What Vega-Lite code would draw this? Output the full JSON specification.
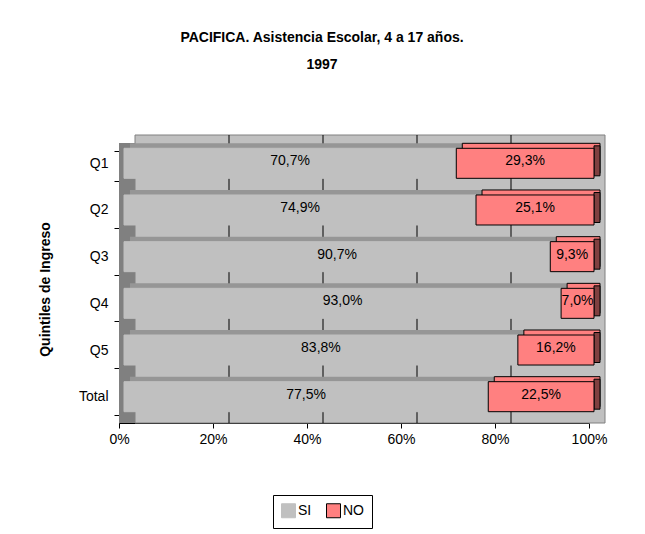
{
  "$schema": "https://vega.github.io/schema/vega-lite/v6.json",
  "width": 470,
  "height": 280,
  "autosize": "none",
  "padding": {"left": 119, "top": 143, "right": 56, "bottom": 111},
  "background": "white",
  "config": {
    "locale": {"number": {"decimal": ",", "thousands": ".", "grouping": [3], "currency": ["$", ""]}},
    "view": {"fill": "#C0C0C0", "stroke": null},
    "font": "Liberation Sans"
  },
  "title": {
    "text": ["PACIFICA. Asistencia Escolar, 4 a 17 años.", "1997"],
    "fontSize": 14,
    "fontWeight": "bold",
    "font": "Liberation Sans",
    "lineHeight": 27,
    "anchor": "middle",
    "frame": "group",
    "dx": -32,
    "offset": 63,
    "color": "black"
  },
  "data": {
    "values": [
      {"q": "Q1", "serie": "SI", "value": 0.707},
      {"q": "Q1", "serie": "NO", "value": 0.293},
      {"q": "Q2", "serie": "SI", "value": 0.749},
      {"q": "Q2", "serie": "NO", "value": 0.251},
      {"q": "Q3", "serie": "SI", "value": 0.907},
      {"q": "Q3", "serie": "NO", "value": 0.093},
      {"q": "Q4", "serie": "SI", "value": 0.930},
      {"q": "Q4", "serie": "NO", "value": 0.070},
      {"q": "Q5", "serie": "SI", "value": 0.838},
      {"q": "Q5", "serie": "NO", "value": 0.162},
      {"q": "Total", "serie": "SI", "value": 0.775},
      {"q": "Total", "serie": "NO", "value": 0.225}
    ]
  },
  "resolve": {"scale": {"x": "shared", "y": "shared"}},
  "layer": [
    {
      "data": {"values": [{"w": "wall"}]},
      "mark": {"type": "rect", "fill": "#C0C0C0", "stroke": "#808080", "strokeWidth": 1, "xOffset": 16, "x2Offset": 16, "yOffset": -8, "y2Offset": -8},
      "encoding": {
        "x": {"datum": 0, "type": "quantitative", "scale": {"domain": [0, 1], "nice": false}},
        "x2": {"datum": 1}
      }
    },
    {
      "data": {"values": [{"w": "left"}]},
      "mark": {"type": "rect", "fill": "#808080"},
      "encoding": {
        "x": {"datum": 0, "type": "quantitative"},
        "x2": {"datum": 0.034}
      }
    },
    {
      "data": {"values": [{"g": 0.2}, {"g": 0.4}, {"g": 0.6}, {"g": 0.8}]},
      "mark": {"type": "rule", "color": "black", "strokeWidth": 1, "xOffset": 16, "x2Offset": 16, "yOffset": -8, "y2Offset": -8},
      "encoding": {
        "x": {"field": "g", "type": "quantitative"}
      }
    },
    {
      "transform": [{"stack": "value", "groupby": ["q"], "sort": [{"field": "serie", "order": "descending"}], "as": ["v0", "v1"]}],
      "mark": {"type": "bar", "xOffset": 11, "x2Offset": 11, "yOffset": -8, "y2Offset": -8},
      "encoding": {
        "y": {"field": "q", "type": "nominal", "sort": ["Q1", "Q2", "Q3", "Q4", "Q5", "Total"], "scale": {"paddingInner": 0.357, "paddingOuter": 0.178}},
        "x": {"field": "v0", "type": "quantitative"},
        "x2": {"field": "v1"},
        "color": {"condition": {"test": "datum.serie === 'NO'", "value": "#FF8080"}, "value": "#969696"},
        "stroke": {"value": "black"},
        "strokeWidth": {"condition": {"test": "datum.serie === 'NO'", "value": 1}, "value": 0}
      }
    },
    {
      "transform": [
        {"stack": "value", "groupby": ["q"], "sort": [{"field": "serie", "order": "descending"}], "as": ["v0", "v1"]},
        {"filter": "datum.serie === 'NO'"}
      ],
      "mark": {"type": "tick", "thickness": 6, "size": 30, "xOffset": 8, "yOffset": -5.5, "color": "#804040", "opacity": 1, "stroke": "black", "strokeWidth": 1},
      "encoding": {
        "y": {"field": "q", "type": "nominal", "sort": ["Q1", "Q2", "Q3", "Q4", "Q5", "Total"]},
        "x": {"field": "v1", "type": "quantitative"}
      }
    },
    {
      "transform": [{"stack": "value", "groupby": ["q"], "sort": [{"field": "serie", "order": "descending"}], "as": ["v0", "v1"]}],
      "mark": {"type": "bar", "xOffset": 5, "x2Offset": 5, "yOffset": -3, "y2Offset": -3, "strokeWidth": 1},
      "encoding": {
        "y": {
          "field": "q", "type": "nominal", "sort": ["Q1", "Q2", "Q3", "Q4", "Q5", "Total"],
          "axis": {
            "title": "Quintiles de Ingreso",
            "titleFontSize": 14, "titleFontWeight": "bold", "titleColor": "black", "titleFont": "Liberation Sans",
            "titleX": -74, "titleY": 146, "titleAngle": 270, "titleAlign": "center", "titleBaseline": "middle",
            "labelFontSize": 14, "labelColor": "black", "labelFont": "Liberation Sans", "labelPadding": 6, "labelOffset": -3,
            "tickBand": "extent", "tickSize": 5, "tickColor": "black", "domainColor": "black", "grid": false
          }
        },
        "x": {
          "field": "v0", "type": "quantitative",
          "axis": {
            "format": ".0%", "values": [0, 0.2, 0.4, 0.6, 0.8, 1],
            "labelFontSize": 14, "labelColor": "black", "labelFont": "Liberation Sans", "labelFlush": false,
            "tickColor": "black", "domainColor": "black", "tickSize": 5, "labelPadding": 4,
            "title": null, "grid": false
          }
        },
        "x2": {"field": "v1"},
        "color": {
          "field": "serie", "type": "nominal",
          "scale": {"domain": ["SI", "NO"], "range": ["#C0C0C0", "#FF8080"]},
          "legend": {
            "orient": "none", "legendX": 154, "legendY": 352, "direction": "horizontal",
            "title": null, "strokeColor": "black", "padding": 8,
            "symbolType": "square", "symbolSize": 196, "symbolStrokeWidth": 1,
            "labelFontSize": 14, "labelFont": "Liberation Sans", "labelColor": "black",
            "columnPadding": 12, "labelOffset": 2
          }
        },
        "stroke": {
          "field": "serie", "type": "nominal",
          "scale": {"domain": ["SI", "NO"], "range": ["#C0C0C0", "black"]},
          "legend": {
            "orient": "none", "legendX": 154, "legendY": 352, "direction": "horizontal",
            "title": null, "strokeColor": "black", "padding": 8,
            "symbolType": "square", "symbolSize": 196, "symbolStrokeWidth": 1,
            "labelFontSize": 14, "labelFont": "Liberation Sans", "labelColor": "black",
            "columnPadding": 12, "labelOffset": 2
          }
        }
      }
    },
    {
      "mark": {"type": "text", "fontSize": 14, "font": "Liberation Sans", "color": "black", "baseline": "middle", "dy": -5, "dx": 5},
      "encoding": {
        "y": {"field": "q", "type": "nominal", "sort": ["Q1", "Q2", "Q3", "Q4", "Q5", "Total"]},
        "x": {"field": "value", "type": "quantitative", "stack": "zero", "bandPosition": 0.5},
        "detail": {"field": "serie"},
        "order": {"field": "serie", "sort": "descending"},
        "text": {"field": "value", "type": "quantitative", "format": ".1%"}
      }
    }
  ]
}
